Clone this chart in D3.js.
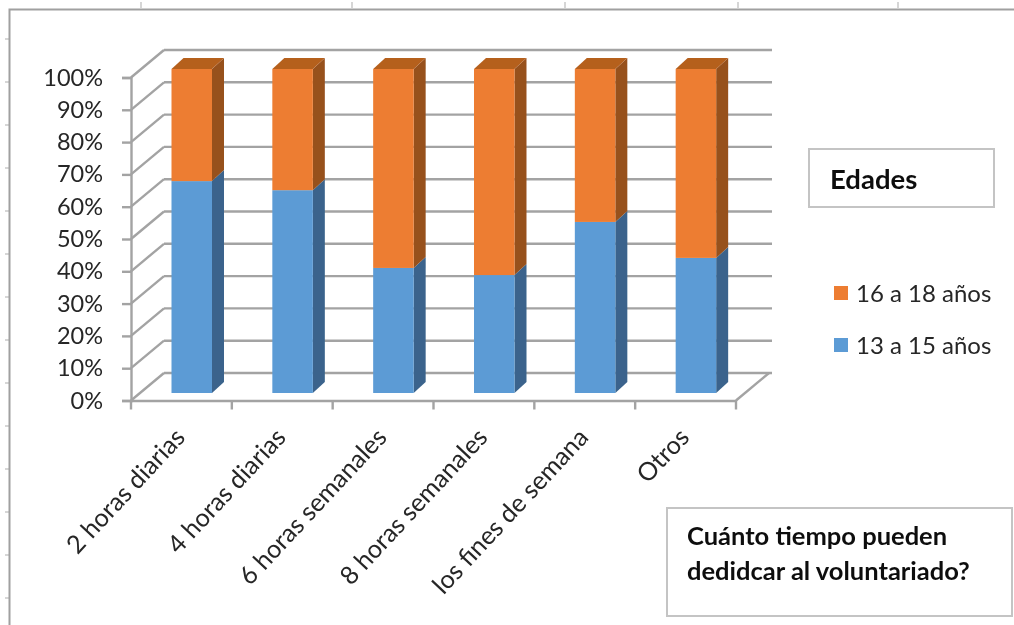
<!DOCTYPE html>
<html>
<head>
<meta charset="utf-8">
<script src="https://cdn.jsdelivr.net/npm/d3@7"></script>
<style>
  html, body { margin: 0; padding: 0; background: #fff; }
  svg { display: block; }
  text { font-family: Lato, "Open Sans", sans-serif; fill: #262626; }
</style>
</head>
<body>
<div id="chart"></div>
<script>
const categories = ["2 horas diarias", "4 horas diarias", "6 horas semanales", "8 horas semanales", "los fines de semana", "Otros"];
const seriesNames = ["13 a 15 años", "16 a 18 años"];
const young = [65.4, 62.6, 38.6, 36.4, 52.8, 41.7];
const old = [34.6, 37.4, 61.4, 63.6, 47.2, 58.3];
const yTicks = [0, 10, 20, 30, 40, 50, 60, 70, 80, 90, 100];
const sheetTopTicks = [141, 352, 565, 738, 898];
const sheetLeftTicks = [39, 82, 125, 168, 211, 254, 297, 340, 383, 426, 469, 512, 555, 598];

const width = 1014, height = 625;
const colors = {
  front: ["#5b9bd5", "#ed7d31"],
  side: ["#3a648c", "#97511f"],
  top: ["#4a80b2", "#b5601f"]
};
const gridColor = "#a3a3a3";
const wall = { dx: 33, dy: -27.5 };
const barDepth = { dx: 12, dy: -11 };

const svg = d3.select("#chart").append("svg")
  .attr("width", width)
  .attr("height", height);

const blur = svg.append("defs").append("filter").attr("id", "soft");
blur.append("feGaussianBlur").attr("stdDeviation", 0.55);

const root = svg.append("g").attr("filter", "url(#soft)");

const x = d3.scaleBand().domain(categories).range([131, 736]);
const y = d3.scaleLinear().domain([0, 100]).range([400.5, 77.5]);
// bars stand a little inside the floor, so they get their own scale
const yBar = d3.scaleLinear().domain([0, 100]).range([393, 69]);
const barX = d => x(d) + 40.5;
const barW = 40.5;

// the worksheet behind the chart
const sheet = root.append("g").attr("stroke", "#c8c8c8").attr("stroke-width", 1.5);
sheet.selectAll(".top").data(sheetTopTicks).join("line").attr("class", "top")
  .attr("x1", d => d).attr("x2", d => d).attr("y1", 2).attr("y2", 8);
sheet.selectAll(".left").data(sheetLeftTicks).join("line").attr("class", "left")
  .attr("x1", 5).attr("x2", 9).attr("y1", d => d).attr("y2", d => d);

root.append("path")
  .attr("d", `M9.5,625V9.5H${width}`)
  .attr("fill", "none")
  .attr("stroke", "#a0a0a0")
  .attr("stroke-width", 2);

// walls and floor
const grid = root.append("g").attr("stroke", gridColor).attr("stroke-width", 2.4).attr("fill", "none");
grid.selectAll(".back").data(yTicks).join("line").attr("class", "back")
  .attr("x1", 131 + wall.dx).attr("x2", 736 + wall.dx + 3)
  .attr("y1", d => y(d) + wall.dy).attr("y2", d => y(d) + wall.dy);
grid.selectAll(".diag").data(yTicks).join("line").attr("class", "diag")
  .attr("x1", 131).attr("x2", 131 + wall.dx)
  .attr("y1", d => y(d)).attr("y2", d => y(d) + wall.dy);
grid.append("line")
  .attr("x1", 736).attr("x2", 736 + wall.dx)
  .attr("y1", y(0)).attr("y2", y(0) + wall.dy);

// stacked 3d bars
const stack = categories.map((c, i) => [
  { c, s: 0, y0: 0, y1: young[i] },
  { c, s: 1, y0: young[i], y1: young[i] + old[i] }
]).flat();

const bars = root.append("g").selectAll("g").data(stack).join("g");
bars.append("path")
  .attr("fill", d => colors.side[d.s])
  .attr("d", d => {
    const r = barX(d.c) + barW;
    return `M${r},${yBar(d.y0)}L${r + barDepth.dx},${yBar(d.y0) + barDepth.dy}` +
      `L${r + barDepth.dx},${yBar(d.y1) + barDepth.dy}L${r},${yBar(d.y1)}Z`;
  });
bars.filter(d => d.s === 1).append("path")
  .attr("fill", d => colors.top[d.s])
  .attr("d", d => {
    const l = barX(d.c), t = yBar(d.y1);
    return `M${l},${t}L${l + barDepth.dx},${t + barDepth.dy}` +
      `L${l + barW + barDepth.dx},${t + barDepth.dy}L${l + barW},${t}Z`;
  });
bars.append("rect")
  .attr("x", d => barX(d.c))
  .attr("width", barW)
  .attr("y", d => yBar(d.y1))
  .attr("height", d => yBar(d.y0) - yBar(d.y1))
  .attr("fill", d => colors.front[d.s]);

// axes
const yAxis = root.append("g")
  .attr("transform", "translate(131,0)")
  .call(d3.axisLeft(y).tickValues(yTicks).tickSize(9).tickPadding(19).tickFormat(d => d + "%"));
yAxis.selectAll("line").attr("stroke", gridColor).attr("stroke-width", 2.4);
yAxis.select(".domain").attr("stroke", gridColor).attr("stroke-width", 2.4);
yAxis.selectAll("text").style("font-size", "23.5px");

const xAxis = root.append("g")
  .attr("transform", `translate(0,${y(0)})`)
  .call(d3.axisBottom(x).tickSize(0).tickPadding(0));
xAxis.select(".domain").attr("stroke", gridColor).attr("stroke-width", 2.4);
xAxis.selectAll(".tick line").remove();
xAxis.selectAll(".tick text")
  .attr("text-anchor", "end")
  .attr("dy", 0)
  .attr("y", 0)
  .attr("transform", "translate(5,38) rotate(-47)")
  .style("font-size", "25.2px");
xAxis.selectAll(".edge").data(d3.range(categories.length + 1)).join("line")
  .attr("class", "edge")
  .attr("x1", i => 131 + i * x.step()).attr("x2", i => 131 + i * x.step())
  .attr("y1", 0).attr("y2", 9)
  .attr("stroke", gridColor).attr("stroke-width", 2.4);

// legend and the two text boxes
const boxes = [
  { x: 809, y: 149, w: 185, h: 58 },
  { x: 667, y: 508, w: 345, h: 108 }
];
root.append("g").selectAll("rect").data(boxes).join("rect")
  .attr("x", d => d.x).attr("y", d => d.y)
  .attr("width", d => d.w).attr("height", d => d.h)
  .attr("fill", "#fff").attr("stroke", "#c4c4c4").attr("stroke-width", 2);

root.append("text").attr("x", 830).attr("y", 189)
  .style("font-size", "27.5px").style("font-weight", 700).style("fill", "#111")
  .text("Edades");

const note = root.append("g").style("font-size", "25.5px").style("font-weight", 700);
["Cuánto tiempo pueden", "dedidcar al voluntariado?"].forEach((t, i) => {
  note.append("text").attr("x", 687).attr("y", 545 + i * 35).style("fill", "#111").text(t);
});

const legend = root.append("g").selectAll("g")
  .data([{ name: seriesNames[1], s: 1, y: 293 }, { name: seriesNames[0], s: 0, y: 345 }])
  .join("g");
legend.append("rect")
  .attr("x", 834).attr("y", d => d.y - 7)
  .attr("width", 14).attr("height", 14)
  .attr("fill", d => colors.front[d.s]);
legend.append("text")
  .attr("x", 856).attr("y", d => d.y + 9)
  .style("font-size", "24px")
  .text(d => d.name);
</script>
</body>
</html>
